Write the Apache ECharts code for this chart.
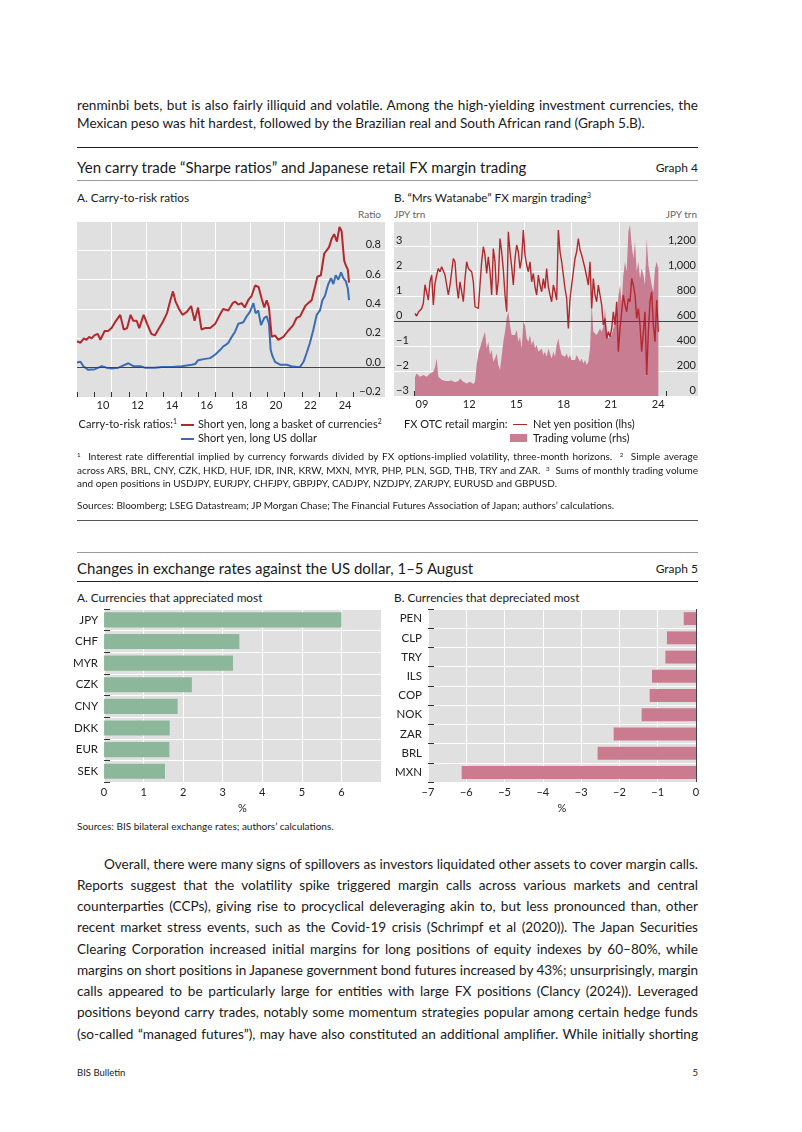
<!DOCTYPE html>
<html><head><meta charset="utf-8">
<script src="https://cdn.jsdelivr.net/npm/echarts@6/dist/echarts.min.js"></script>
<style>
html,body{margin:0;padding:0;background:#fff;}
#page{position:relative;width:802px;height:1132px;overflow:hidden;font-family:Lato,"Open Sans",sans-serif;color:#1a1a1a;}
.t{position:absolute;white-space:nowrap;}
.jl{position:absolute;left:77px;width:621px;text-align:justify;text-align-last:justify;}
.ll{position:absolute;left:77px;white-space:nowrap;}
.body{font-size:13.6px;line-height:21px;}
.fn{font-size:10px;line-height:13.5px;}
.rule{position:absolute;left:77px;width:621px;height:1px;}
sup{font-size:0.62em;line-height:0;vertical-align:0.55em;}
.chart{position:absolute;}
</style></head>
<body><div id="page">

<div class="jl body" style="top:94.5px">renminbi bets, but is also fairly illiquid and volatile. Among the high-yielding investment currencies, the</div>
<div class="ll body" style="top:113px">Mexican peso was hit hardest, followed by the Brazilian real and South African rand (Graph 5.B).</div>

<div class="rule" style="top:146.5px;background:#222"></div>
<div class="t" style="left:77px;top:157px;font-size:15px;line-height:20px">Yen carry trade “Sharpe ratios” and Japanese retail FX margin trading</div>
<div class="t" style="right:104px;top:160px;font-size:12px;line-height:16px">Graph 4</div>
<div class="rule" style="top:179.5px;background:#9a9a9a"></div>

<div class="t" style="left:77px;top:190px;font-size:11.8px;line-height:16px">A. Carry-to-risk ratios</div>
<div class="t" style="left:394px;top:190px;font-size:11.8px;line-height:16px">B. “Mrs Watanabe” FX margin trading<sup>3</sup></div>
<div class="t" style="right:421px;top:207px;font-size:10px;line-height:14px;color:#666">Ratio</div>
<div class="t" style="left:394px;top:207px;font-size:10px;line-height:14px;color:#666">JPY trn</div>
<div class="t" style="right:105px;top:207px;font-size:10px;line-height:14px;color:#666">JPY trn</div>

<div id="g4a" class="chart" style="left:70px;top:206px;width:325px;height:214px"></div>
<div id="g4b" class="chart" style="left:390px;top:206px;width:315px;height:214px"></div>

<div class="t" style="right:625px;top:417px;font-size:11px;line-height:14px">Carry-to-risk ratios:<sup>1</sup></div>
<div class="t" style="left:181px;top:423.5px;width:13px;height:2px;background:#b3282d"></div>
<div class="t" style="left:198px;top:417px;font-size:11px;line-height:14px">Short yen, long a basket of currencies<sup>2</sup></div>
<div class="t" style="left:181px;top:437.5px;width:13px;height:2px;background:#3b6cb4"></div>
<div class="t" style="left:198px;top:431px;font-size:11px;line-height:14px">Short yen, long US dollar</div>

<div class="t" style="left:404px;top:417px;font-size:11px;line-height:14px">FX OTC retail margin:</div>
<div class="t" style="left:513px;top:423.5px;width:14px;height:1.5px;background:#b3282d"></div>
<div class="t" style="left:533px;top:417px;font-size:11px;line-height:14px">Net yen position (lhs)</div>
<div class="t" style="left:510px;top:434px;width:17px;height:8px;background:#c97d92"></div>
<div class="t" style="left:533px;top:431px;font-size:11px;line-height:14px">Trading volume (rhs)</div>

<div class="jl fn" style="top:450px"><sup>1</sup>&nbsp; Interest rate differential implied by currency forwards divided by FX options-implied volatility, three-month horizons. &nbsp;<sup>2</sup>&nbsp; Simple average</div>
<div class="jl fn" style="top:463.5px">across ARS, BRL, CNY, CZK, HKD, HUF, IDR, INR, KRW, MXN, MYR, PHP, PLN, SGD, THB, TRY and ZAR. &nbsp;<sup>3</sup>&nbsp; Sums of monthly trading volume</div>
<div class="ll fn" style="top:477px">and open positions in USDJPY, EURJPY, CHFJPY, GBPJPY, CADJPY, NZDJPY, ZARJPY, EURUSD and GBPUSD.</div>
<div class="ll fn" style="top:499px">Sources: Bloomberg; LSEG Datastream; JP Morgan Chase; The Financial Futures Association of Japan; authors’ calculations.</div>
<div class="rule" style="top:519.5px;background:#555"></div>

<div class="rule" style="top:551.5px;background:#9a9a9a"></div>
<div class="t" style="left:77px;top:558px;font-size:15px;line-height:20px">Changes in exchange rates against the US dollar, 1–5 August</div>
<div class="t" style="right:104px;top:561px;font-size:12px;line-height:16px">Graph 5</div>
<div class="rule" style="top:580.5px;background:#222"></div>

<div class="t" style="left:77px;top:590px;font-size:11.8px;line-height:16px">A. Currencies that appreciated most</div>
<div class="t" style="left:394px;top:590px;font-size:11.8px;line-height:16px">B. Currencies that depreciated most</div>
<div id="g5a" class="chart" style="left:70px;top:604px;width:320px;height:215px"></div>
<div id="g5b" class="chart" style="left:385px;top:604px;width:320px;height:215px"></div>
<div class="ll fn" style="top:820px">Sources: BIS bilateral exchange rates; authors’ calculations.</div>

<div class="jl body" style="top:853.5px;left:104px;width:594px">Overall, there were many signs of spillovers as investors liquidated other assets to cover margin calls.</div>
<div class="jl body" style="top:874.75px">Reports suggest that the volatility spike triggered margin calls across various markets and central</div>
<div class="jl body" style="top:896px">counterparties (CCPs), giving rise to procyclical deleveraging akin to, but less pronounced than, other</div>
<div class="jl body" style="top:917.25px">recent market stress events, such as the Covid-19 crisis (Schrimpf et al (2020)). The Japan Securities</div>
<div class="jl body" style="top:938.5px">Clearing Corporation increased initial margins for long positions of equity indexes by 60–80%, while</div>
<div class="jl body" style="top:959.75px">margins on short positions in Japanese government bond futures increased by 43%; unsurprisingly, margin</div>
<div class="jl body" style="top:981px">calls appeared to be particularly large for entities with large FX positions (Clancy (2024)). Leveraged</div>
<div class="jl body" style="top:1002.25px">positions beyond carry trades, notably some momentum strategies popular among certain hedge funds</div>
<div class="jl body" style="top:1023.5px">(so-called “managed futures”), may have also constituted an additional amplifier. While initially shorting</div>

<div class="t" style="left:77px;top:1066px;font-size:9.5px;line-height:14px">BIS Bulletin</div>
<div class="t" style="right:104px;top:1066px;font-size:9.5px;line-height:14px">5</div>
</div>

<script>
// ---------- Graph 4A: carry-to-risk ratios [decimal year, ratio] ----------
const basketRatio = [[2009.00,0.18],[2009.2,0.17],[2009.4,0.20],[2009.55,0.19],[2009.7,0.21],[2009.85,0.20],[2010.0,0.22],[2010.2,0.23],[2010.35,0.19],[2010.6,0.25],[2010.8,0.25],[2011.0,0.27],[2011.2,0.31],[2011.5,0.36],[2011.7,0.26],[2011.9,0.27],[2012.1,0.36],[2012.25,0.32],[2012.45,0.32],[2012.6,0.27],[2012.85,0.36],[2013.05,0.30],[2013.3,0.23],[2013.5,0.22],[2013.7,0.26],[2013.95,0.31],[2014.2,0.37],[2014.4,0.46],[2014.55,0.52],[2014.7,0.45],[2014.9,0.40],[2015.1,0.36],[2015.35,0.38],[2015.6,0.42],[2015.8,0.32],[2016.0,0.41],[2016.2,0.26],[2016.4,0.27],[2016.7,0.27],[2017.0,0.30],[2017.3,0.37],[2017.45,0.40],[2017.75,0.39],[2018.0,0.44],[2018.15,0.45],[2018.33,0.43],[2018.52,0.44],[2018.7,0.41],[2018.9,0.46],[2019.1,0.49],[2019.3,0.56],[2019.5,0.55],[2019.68,0.47],[2019.83,0.41],[2019.97,0.46],[2020.1,0.41],[2020.26,0.21],[2020.45,0.22],[2020.64,0.19],[2020.93,0.21],[2021.2,0.25],[2021.5,0.29],[2021.7,0.34],[2021.9,0.35],[2022.2,0.42],[2022.37,0.44],[2022.57,0.46],[2022.76,0.55],[2022.9,0.62],[2023.1,0.63],[2023.3,0.78],[2023.44,0.80],[2023.57,0.82],[2023.73,0.88],[2023.87,0.91],[2024.03,0.86],[2024.18,0.96],[2024.3,0.93],[2024.45,0.73],[2024.57,0.69],[2024.66,0.67],[2024.73,0.58]];
const usdRatio = [[2009.0,0.035],[2009.2,0.04],[2009.37,0.01],[2009.65,-0.015],[2010.04,-0.01],[2010.43,0.01],[2010.7,0.0],[2011.0,-0.005],[2011.4,0.0],[2011.97,0.03],[2012.26,0.01],[2012.65,0.01],[2012.93,0.0],[2013.5,0.0],[2013.9,0.005],[2014.5,0.005],[2015.06,0.01],[2015.63,0.02],[2015.83,0.025],[2016.0,0.05],[2016.4,0.06],[2016.7,0.065],[2017.0,0.09],[2017.27,0.12],[2017.46,0.145],[2017.6,0.155],[2017.75,0.17],[2017.95,0.21],[2018.14,0.245],[2018.33,0.30],[2018.62,0.31],[2018.81,0.35],[2019.0,0.38],[2019.2,0.44],[2019.33,0.37],[2019.48,0.39],[2019.64,0.29],[2019.83,0.34],[2019.97,0.35],[2020.1,0.30],[2020.2,0.12],[2020.3,0.08],[2020.45,0.04],[2020.74,0.02],[2021.13,0.02],[2021.4,0.01],[2021.7,0.005],[2021.9,0.005],[2022.1,0.04],[2022.28,0.10],[2022.47,0.17],[2022.67,0.26],[2022.86,0.36],[2023.05,0.39],[2023.19,0.46],[2023.34,0.49],[2023.53,0.57],[2023.69,0.61],[2023.82,0.57],[2023.96,0.63],[2024.11,0.60],[2024.27,0.65],[2024.4,0.61],[2024.54,0.59],[2024.66,0.54],[2024.73,0.46]];

// ---------- Graph 4B: Mrs Watanabe (time grid start / step in years) ----------
const netStart = 2009.063, netStep = 0.10582;
const netYenPosition = [0.3,0.2,0.35,0.4,0.5,0.7,1.45,1.37,0.84,1.57,
1.84,0.64,1.5,1.84,2.1,1.97,2.17,2.24,1.84,1.44,
1.04,1.44,1.97,2.5,2.37,1.44,0.9,1.57,1.17,0.77,
1.7,2.37,2.1,2.17,1.97,1.57,0.57,0.64,0.5,1.44,
2.37,2.97,2.64,1.9,2.57,1.97,1.04,2.9,2.37,1.04,
1.64,3.3,2.77,2.04,1.04,0.37,3.57,2.77,2.17,1.44,
2.5,3.04,2.77,2.1,2.5,3.64,2.64,2.24,1.97,2.37,
1.57,1.9,1.37,1.04,1.84,1.44,1.17,1.7,1.3,2.1,
1.37,1.04,0.77,1.44,1.17,0.84,3.64,2.77,2.37,1.84,
1.3,0.9,-0.3,0.9,1.44,1.97,2.5,2.77,3.3,2.84,
2.64,2.7,2.1,1.77,1.44,2.37,0.5,1.7,1.04,0.77,
1.44,1.04,0.64,-0.16,0.1,-0.7,-0.43,-0.63,-0.3,0.37,
-0.16,0.77,-1.23,-0.3,0.37,1.04,0.64,0.37,0.9,0.77,
1.7,1.44,1.04,0.1,0.5,-0.16,-1.23,-0.43,0.37,-2.16,
-0.43,0.77,1.17,-0.16,-0.83,0.84,-0.43];
const tradingVolume = [150,181,165,155,160,168,160,155,170,181,
190,195,230,300,155,141,130,115,120,128,
120,115,125,128,110,101,120,141,125,115,
108,101,110,115,105,96,115,250,341,355,
430,475,515,381,435,328,368,275,301,341,
248,208,195,435,515,621,675,568,488,475,
488,528,435,475,381,595,568,461,435,488,
408,448,381,408,355,368,381,328,355,315,
381,341,301,355,315,408,461,381,328,341,
315,341,301,328,288,301,288,328,301,275,
301,261,288,248,275,381,741,515,528,488,
501,541,515,555,701,515,461,475,488,541,
581,621,795,888,755,968,1075,995,1315,1368,
1208,1101,1235,995,1075,941,1021,968,888,1261,
1048,968,888,835,1021,1075,1021];

// ---------- Graph 5 ----------
const appCats = ['JPY','CHF','MYR','CZK','CNY','DKK','EUR','SEK'];
const appVals = [6.0,3.42,3.26,2.22,1.86,1.66,1.65,1.54];
const depCats = ['PEN','CLP','TRY','ILS','COP','NOK','ZAR','BRL','MXN'];
const depVals = [-0.32,-0.76,-0.80,-1.15,-1.21,-1.42,-2.15,-2.57,-6.12];

// axis tick/label positions (years)
const yearTicks = [2009,2010,2011,2012,2013,2014,2015,2016,2017,2018,2019,2020,2021,2022,2023,2024,2025];
const yearLabelsA = [2010.5,2012.5,2014.5,2016.5,2018.5,2020.5,2022.5,2024.5];
const gridYearsA = [2011,2013,2015,2017,2019,2021,2023];
const yearLabelsB = [2009.5,2012.5,2015.5,2018.5,2021.5,2024.5];
const gridYearsB = [2010,2013,2016,2019,2022];

const FONT = 'Lato';
const GRAY = '#e0e0e0', RED = '#b3282d', BLUE = '#3b6cb4', PINK = '#c97d92', GREEN = '#8db79b', BARPINK = '#cb7b8f';
const minus = s => String(s).replace('-', '\u2212');
const yy = v => String(Math.floor(v)).slice(2);
const lblStyle = {fontFamily: FONT, fontSize: 11, color: '#222'};
const zeroLine = {silent: true, symbol: 'none', label: {show: false}, lineStyle: {color: '#444', width: 1, type: 'solid'}};

function timeAxes(min, max, labels, grids) {
  return [
    {type: 'value', min: min, max: max, axisLine: {show: false, onZero: false},
     axisTick: {show: true, inside: true, length: 5, customValues: yearTicks, lineStyle: {color: '#333'}},
     axisLabel: Object.assign({customValues: labels, formatter: yy, margin: 3}, lblStyle),
     splitLine: {show: false}},
    {type: 'value', min: min, max: max, axisLine: {show: false, onZero: false},
     axisTick: {show: false, customValues: grids}, axisLabel: {show: false},
     splitLine: {show: true, lineStyle: {color: '#fff', width: 1}}}
  ];
}

// Graph 4A
const cA = echarts.init(document.getElementById('g4a'));
cA.setOption({
  animation: false,
  grid: {left: 7, top: 15, width: 308, height: 176, show: true, backgroundColor: GRAY, borderWidth: 0},
  xAxis: timeAxes(2009, 2026.81, yearLabelsA, gridYearsA),
  yAxis: {type: 'value', position: 'right', min: -0.2, max: 1.0, interval: 0.2,
    axisLine: {show: false}, axisTick: {show: false},
    axisLabel: Object.assign({inside: true, verticalAlign: 'bottom', margin: 4,
      formatter: v => v > 0.99 ? '' : minus(v.toFixed(1))}, lblStyle),
    splitLine: {lineStyle: {color: '#fff', width: 1}}},
  series: [
    {type: 'line', data: usdRatio, symbol: 'none', lineStyle: {color: BLUE, width: 2}, z: 3,
     markLine: Object.assign({data: [{yAxis: 0}]}, zeroLine)},
    {type: 'line', data: basketRatio, symbol: 'none', lineStyle: {color: RED, width: 2}, z: 4}
  ]
});

// Graph 4B
const netDates = netYenPosition.map((_, i) => netStart + i * netStep);
const cB = echarts.init(document.getElementById('g4b'));
cB.setOption({
  animation: false,
  grid: {left: 4, top: 15, width: 304, height: 175, show: true, backgroundColor: GRAY, borderWidth: 0},
  xAxis: timeAxes(2007.73, 2027.03, yearLabelsB, gridYearsB),
  yAxis: [
    {type: 'value', position: 'left', min: -3, max: 4, interval: 1,
     axisLine: {show: false}, axisTick: {show: false},
     axisLabel: Object.assign({inside: true, verticalAlign: 'bottom', margin: 2,
       formatter: v => v === 4 ? '' : minus(v)}, lblStyle),
     splitLine: {lineStyle: {color: '#fff', width: 1}}},
    {type: 'value', position: 'right', min: 0, max: 1400, interval: 200,
     axisLine: {show: false}, axisTick: {show: false},
     axisLabel: Object.assign({inside: true, verticalAlign: 'bottom', margin: 2,
       formatter: v => v === 1400 ? '' : v.toLocaleString('en-US')}, lblStyle),
     splitLine: {show: false}}
  ],
  series: [
    {type: 'line', yAxisIndex: 1, data: netDates.map((d, i) => [d, tradingVolume[i]]), symbol: 'none',
     lineStyle: {width: 0}, areaStyle: {color: PINK, opacity: 1}, z: 2},
    {type: 'line', yAxisIndex: 0, data: netDates.map((d, i) => [d, netYenPosition[i]]), symbol: 'none',
     lineStyle: {color: RED, width: 1.4}, z: 4,
     markLine: Object.assign({data: [{yAxis: 0}]}, zeroLine)}
  ]
});

// Graph 5A
const c5a = echarts.init(document.getElementById('g5a'));
c5a.setOption({
  animation: false,
  grid: {left: 33, top: 5, width: 278, height: 175, show: true, backgroundColor: GRAY, borderWidth: 0},
  xAxis: {type: 'value', min: 0, max: 7, interval: 1, axisLine: {show: false}, axisTick: {show: false},
    axisLabel: Object.assign({margin: 5, formatter: v => v === 7 ? '' : String(v)}, lblStyle),
    splitLine: {lineStyle: {color: '#fff', width: 1}},
    name: '%', nameLocation: 'middle', nameGap: 20, nameTextStyle: lblStyle},
  yAxis: {type: 'category', data: appCats, inverse: true, axisLine: {show: false, onZero: false},
    axisTick: {show: true, inside: true, length: 6, lineStyle: {color: '#333'}},
    axisLabel: Object.assign({margin: 6}, lblStyle, {fontSize: 11.5}),
    splitLine: {show: true, lineStyle: {color: '#fff', width: 1}}},
  series: [{type: 'bar', data: appVals, itemStyle: {color: GREEN}, barCategoryGap: '30%'}]
});

// Graph 5B
const c5b = echarts.init(document.getElementById('g5b'));
c5b.setOption({
  animation: false,
  grid: {left: 43, top: 5, width: 268, height: 175, show: true, backgroundColor: GRAY, borderWidth: 0},
  xAxis: {type: 'value', min: -7, max: 0, interval: 1, axisLine: {show: false}, axisTick: {show: false},
    axisLabel: Object.assign({margin: 5, formatter: v => minus(v)}, lblStyle),
    splitLine: {lineStyle: {color: '#fff', width: 1}},
    name: '%', nameLocation: 'middle', nameGap: 20, nameTextStyle: lblStyle},
  yAxis: {type: 'category', data: depCats, inverse: true, position: 'left',
    axisLine: {show: false, onZero: false},
    axisTick: {show: true, inside: true, length: 6, lineStyle: {color: '#333'}},
    axisLabel: Object.assign({margin: 6}, lblStyle, {fontSize: 11.5}),
    splitLine: {show: true, lineStyle: {color: '#fff', width: 1}}},
  series: [{type: 'bar', data: depVals, itemStyle: {color: BARPINK}, barCategoryGap: '33%',
    markLine: Object.assign({data: [{xAxis: 0}]}, zeroLine)}]
});

// fit justified lines onto a single line
document.querySelectorAll('.jl').forEach(el => {
  const lh = parseFloat(getComputedStyle(el).lineHeight);
  let ls = 0;
  while (el.offsetHeight > lh * 1.4 && ls > -1.5) { ls -= 0.05; el.style.letterSpacing = ls + 'px'; }
});
</script>
</body></html>
